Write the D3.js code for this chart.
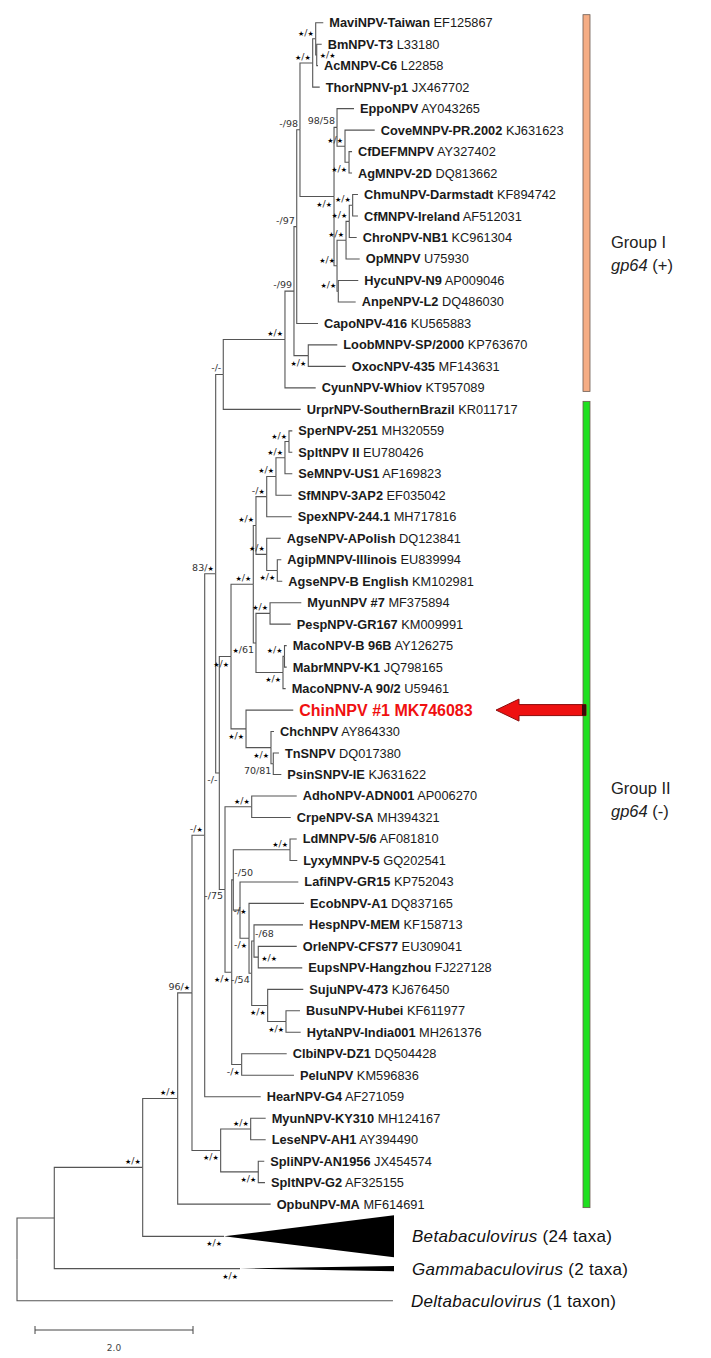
<!DOCTYPE html>
<html>
<head>
<meta charset="utf-8">
<script src="https://cdn.jsdelivr.net/npm/d3@7"></script>
<style>
  body { margin: 0; background: #fff; }
  svg { display: block; font-family: "Liberation Sans", Arial, sans-serif; }
</style>
</head>
<body>
<svg id="chart" width="711" height="1358"></svg>
<script>
// Internal nodes: id, parent, distance from root (subst./site), support (ML / BI, * = max)
const nodes = [
  ["root", "", 0, ""],
  ["ABG", "root", 0.472, ""],
  ["AB", "ABG", 1.591, "*/*"],
  ["alpha", "AB", 2.034, "*/*"],
  ["n96", "alpha", 2.215, "96/*"],
  ["mj", "n96", 2.376, "-/*"],
  ["n83", "mj", 2.515, "83/*"],
  ["g1plus", "n83", 2.611, "-/-"],
  ["g1", "g1plus", 3.392, "*/*"],
  ["n99", "g1", 3.506, "-/99"],
  ["n97", "n99", 3.541, "-/97"],
  ["n98", "n97", 3.582, "-/98"],
  ["upper", "n98", 3.743, "*/*"],
  ["mavi", "upper", 3.781, "*/*"],
  ["bmac", "mavi", 3.794, "*/*"],
  ["lower", "n98", 4.013, "*/*"],
  ["eppo", "lower", 4.051, "98/58"],
  ["cove", "eppo", 4.152, "*/*"],
  ["cfag", "cove", 4.203, "*/*"],
  ["chmuAll", "lower", 4.051, "*/*"],
  ["op", "chmuAll", 4.165, "*/*"],
  ["chro", "op", 4.206, "*/*"],
  ["chmucf", "chro", 4.249, "*/*"],
  ["hyan", "chmuAll", 4.067, "*/*"],
  ["loox", "n99", 3.687, "*/*"],
  ["g2", "n83", 2.561, "-/-"],
  ["a", "g2", 2.709, "*/*"],
  ["bp", "a", 2.991, "*/*"],
  ["sa", "bp", 3.025, "*/*"],
  ["spex", "sa", 3.161, "-/*"],
  ["sf", "spex", 3.278, "*/*"],
  ["se", "sf", 3.392, "*/*"],
  ["spsp", "se", 3.443, "*/*"],
  ["agse", "sa", 3.161, "*/*"],
  ["ag2", "agse", 3.295, "*/*"],
  ["mp", "bp", 3.025, "*/61"],
  ["mype", "mp", 3.203, "*/*"],
  ["maco", "mp", 3.367, "*/*"],
  ["mbm", "maco", 3.386, "*/*"],
  ["chin", "a", 2.899, "*/*"],
  ["chtp", "chin", 3.215, "*/*"],
  ["tp", "chtp", 3.244, "70/81"],
  ["n75", "g2", 2.633, "-/75"],
  ["adcr", "n75", 2.971, "*/*"],
  ["x", "n75", 2.718, "*/*"],
  ["y", "x", 2.738, "-/50"],
  ["ldly", "y", 3.456, "*/*"],
  ["z", "y", 2.823, "-/*"],
  ["w", "z", 2.937, "-/*"],
  ["v", "w", 2.971, "-/54"],
  ["hoe", "v", 3.000, "-/68"],
  ["oe", "hoe", 3.054, "*/*"],
  ["s", "v", 3.173, "*/*"],
  ["bh", "s", 3.405, "*/*"],
  ["cp", "x", 2.844, "-/*"],
  ["mls", "n96", 2.578, "*/*"],
  ["ml", "mls", 2.958, "*/*"],
  ["ss", "mls", 3.054, "*/*"]
];

// Tips, top to bottom: name, accession, parent node, distance from root
const tips = [
  ["MaviNPV-Taiwan", "EF125867", "mavi", 3.877],
  ["BmNPV-T3", "L33180", "bmac", 3.857],
  ["AcMNPV-C6", "L22858", "bmac", 3.810],
  ["ThorNPNV-p1", "JX467702", "upper", 3.832],
  ["EppoNPV", "AY043265", "eppo", 4.266],
  ["CoveMNPV-PR.2002", "KJ631623", "cove", 4.528],
  ["CfDEFMNPV", "AY327402", "cfag", 4.241],
  ["AgMNPV-2D", "DQ813662", "cfag", 4.241],
  ["ChmuNPV-Darmstadt", "KF894742", "chmucf", 4.316],
  ["CfMNPV-Ireland", "AF512031", "chmucf", 4.316],
  ["ChroNPV-NB1", "KC961304", "chro", 4.300],
  ["OpMNPV", "U75930", "op", 4.338],
  ["HycuNPV-N9", "AP009046", "hyan", 4.320],
  ["AnpeNPV-L2", "DQ486030", "hyan", 4.287],
  ["CapoNPV-416", "KU565883", "n97", 3.810],
  ["LoobMNPV-SP/2000", "KP763670", "loox", 4.054],
  ["OxocNPV-435", "MF143631", "loox", 4.161],
  ["CyunNPV-Whiov", "KT957089", "g1", 3.781],
  ["UrprNPV-SouthernBrazil", "KR011717", "g1plus", 3.591],
  ["SperNPV-251", "MH320559", "spsp", 3.485],
  ["SpltNPV II", "EU780426", "spsp", 3.485],
  ["SeMNPV-US1", "AF169823", "se", 3.485],
  ["SfMNPV-3AP2", "EF035042", "sf", 3.477],
  ["SpexNPV-244.1", "MH717816", "spex", 3.477],
  ["AgseNPV-APolish", "DQ123841", "agse", 3.338],
  ["AgipMNPV-Illinois", "EU839994", "ag2", 3.346],
  ["AgseNPV-B English", "KM102981", "ag2", 3.358],
  ["MyunNPV #7", "MF375894", "mype", 3.599],
  ["PespNPV-GR167", "KM009991", "mype", 3.465],
  ["MacoNPV-B 96B", "AY126275", "mbm", 3.414],
  ["MabrMNPV-K1", "JQ798165", "mbm", 3.414],
  ["MacoNPNV-A 90/2", "U59461", "maco", 3.401],
  ["ChinNPV #1", "MK746083", "chin", 3.497],
  ["ChchNPV", "AY864330", "chtp", 3.253],
  ["TnSNPV", "DQ017380", "tp", 3.316],
  ["PsinSNPV-IE", "KJ631622", "tp", 3.346],
  ["AdhoNPV-ADN001", "AP006270", "adcr", 3.541],
  ["CrpeNPV-SA", "MH394321", "adcr", 3.465],
  ["LdMNPV-5/6", "AF081810", "ldly", 3.541],
  ["LyxyMNPV-5", "GQ202541", "ldly", 3.548],
  ["LafiNPV-GR15", "KP752043", "z", 3.561],
  ["EcobNPV-A1", "DQ837165", "w", 3.633],
  ["HespNPV-MEM", "KF158713", "hoe", 3.620],
  ["OrleNPV-CFS77", "EU309041", "oe", 3.541],
  ["EupsNPV-Hangzhou", "FJ227128", "oe", 3.611],
  ["SujuNPV-473", "KJ676450", "s", 3.624],
  ["BusuNPV-Hubei", "KF611977", "bh", 3.582],
  ["HytaNPV-India001", "MH261376", "bh", 3.591],
  ["ClbiNPV-DZ1", "DQ504428", "cp", 3.414],
  ["PeluNPV", "KM596836", "cp", 3.506],
  ["HearNPV-G4", "AF271059", "mj", 3.085],
  ["MyunNPV-KY310", "MH124167", "ml", 3.148],
  ["LeseNPV-AH1", "AY394490", "ml", 3.148],
  ["SpliNPV-AN1956", "JX454574", "ss", 3.130],
  ["SpltNPV-G2", "AF325155", "ss", 3.139],
  ["OpbuNPV-MA", "MF614691", "alpha", 3.211]
];

// Collapsed genera: name, note, parent node, clade origin, tip distance, support
const genera = [
  ["Betabaculovirus", "(24 taxa)", "AB", 2.620, 4.772, "*/*"],
  ["Gammabaculovirus", "(2 taxa)", "ABG", 2.823, 4.772, "*/*"],
  ["Deltabaculovirus", "(1 taxon)", "root", 4.759, 4.759, ""]
];

// Alphabaculovirus groups: label, gene, sign, first tip, last tip
const groups = [
  ["Group I", "gp64", "(+)", "MaviNPV-Taiwan", "CyunNPV-Whiov"],
  ["Group II", "gp64", "(-)", "UrprNPV-SouthernBrazil", "OpbuNPV-MA"]
];

const highlight = "ChinNPV #1";
const scaleBarValue = 2.0;

// support label placement (default: above the branch, left of the node)
const labelPlace = {
  below: ["lower", "cfag", "ag2", "mp", "maco", "a", "chin", "chtp", "tp", "g2", "n75", "x", "w", "v",
          "s", "bh", "cp", "mls", "ss", "loox", "Betabaculovirus", "Gammabaculovirus"],
  right: ["bmac", "oe"],
  aboveRight: ["hoe", "y"],
  mid: ["z"]
};
const wedgeHalf = { Betabaculovirus: 21, Gammabaculovirus: 2.6 };
const groupColors = ["#f5ad85", "#1fe01f"];
const groupLabelAt = [0.634, 0.494];

const svg = d3.select("#chart");

const x = d3.scaleLinear().domain([0, 5]).range([17, 412]);
const lastRow = tips.length - 1 + genera.length * 1.5;
const y = d3.scaleLinear().domain([0, lastRow]).range([22.7, 1300.8]);

const table = [
  ...nodes.map(([id, parent, dist, support]) => ({ id, parent, dist, support, kind: "node" })),
  ...tips.map(([name, acc, parent, dist], i) => ({ id: name, parent, dist, support: "", kind: "tip", acc, row: i })),
  ...genera.map(([name, note, parent, apex, end, support], j) => ({
    id: name, parent, dist: apex, end, support, kind: "clade", note, row: tips.length - 1 + 1.5 * (j + 1)
  }))
];

const root = d3.stratify()
  .id(d => d.id)
  .parentId(d => d.parent || null)(table);

root.eachAfter(n => {
  n.px = x(n.data.dist);
  if (n.children) {
    const ys = n.children.map(c => c.py);
    n.py = (d3.min(ys) + d3.max(ys)) / 2;
  } else {
    n.py = y(n.data.row);
  }
});

const byId = new Map(root.descendants().map(n => [n.id, n]));

// branches
svg.append("g")
  .selectAll("path")
  .data(root.descendants().filter(n => n.parent))
  .join("path")
  .attr("d", n => `M${n.parent.px},${n.parent.py}V${n.py}H${n.px}`)
  .attr("fill", "none")
  .attr("stroke", "#555")
  .attr("stroke-width", 1.1);

// collapsed clades
const clades = root.leaves().filter(n => n.data.kind === "clade");
svg.append("g")
  .selectAll("path")
  .data(clades.filter(n => n.data.end > n.data.dist))
  .join("path")
  .attr("d", n => {
    const h = wedgeHalf[n.id], xe = x(n.data.end);
    return `M${n.px},${n.py}L${xe},${n.py - h}L${xe},${n.py + h}Z`;
  })
  .attr("fill", "#000");

svg.append("g")
  .selectAll("text")
  .data(clades)
  .join("text")
  .attr("x", n => x(n.data.end) + 18)
  .attr("y", n => n.py)
  .attr("dy", "0.35em")
  .attr("font-size", 17)
  .attr("letter-spacing", 0.3)
  .attr("fill", "#111")
  .call(t => t.append("tspan").attr("font-style", "italic").text(n => n.id))
  .call(t => t.append("tspan").text(n => " " + n.data.note));

// tip labels
svg.append("g")
  .selectAll("text")
  .data(root.leaves().filter(n => n.data.kind === "tip"))
  .join("text")
  .attr("x", n => n.px + 6)
  .attr("y", n => n.py)
  .attr("dy", "0.35em")
  .attr("font-size", n => n.id === highlight ? 16 : 12.8)
  .attr("fill", n => n.id === highlight ? "#f01010" : "#1a1a1a")
  .call(t => t.append("tspan").attr("font-weight", "bold").text(n => n.id))
  .call(t => t.append("tspan")
    .attr("font-weight", n => n.id === highlight ? "bold" : "normal")
    .text(n => " " + n.data.acc));

// support values
const placeOf = id => Object.keys(labelPlace).find(k => labelPlace[k].includes(id)) || "above";
svg.append("g")
  .attr("font-family", "'DejaVu Sans', sans-serif")
  .attr("fill", "#333")
  .selectAll("text")
  .data(root.descendants().filter(n => n.data.support))
  .join("text")
  .each(function (n) {
    const p = placeOf(n.id);
    const t = d3.select(this);
    if (p === "above") t.attr("x", n.px - 2).attr("y", n.py - 3).attr("text-anchor", "end");
    else if (p === "below") t.attr("x", n.px - 2).attr("y", n.py + 10).attr("text-anchor", "end");
    else if (p === "right") t.attr("x", n.px + 3).attr("y", n.py + 3.5).attr("text-anchor", "start");
    else if (p === "aboveRight") t.attr("x", n.px + 1).attr("y", n.py - 4).attr("text-anchor", "start");
    else t.attr("x", n.px).attr("y", n.py + 3.5).attr("text-anchor", "middle");
    t.selectAll("tspan")
      .data(n.data.support.split(""))
      .join("tspan")
      .attr("font-size", c => c === "*" ? 7 : 9.5)
      .attr("fill", c => c === "*" ? "#000" : "#333")
      .text(c => c === "*" ? "\u2605" : c);
  });

// group bars
const gBars = svg.append("g");
groups.forEach(([label, gene, sign, first, last], i) => {
  const y0 = byId.get(first).py - 8;
  const y1 = byId.get(last).py + 3.5;
  gBars.append("rect")
    .attr("x", 583).attr("y", y0)
    .attr("width", 7).attr("height", y1 - y0)
    .attr("fill", groupColors[i])
    .attr("stroke", "#6b5a50")
    .attr("stroke-width", 0.8);
  const ly = y0 + groupLabelAt[i] * (y1 - y0);
  gBars.append("text")
    .attr("x", 611).attr("y", ly - 11.5)
    .attr("dy", "0.35em")
    .attr("font-size", 16.5)
    .attr("fill", "#222")
    .text(label);
  const t2 = gBars.append("text")
    .attr("x", 611).attr("y", ly + 11.5)
    .attr("dy", "0.35em")
    .attr("font-size", 16.5)
    .attr("fill", "#222");
  t2.append("tspan").attr("font-style", "italic").text(gene);
  t2.append("tspan").text(" " + sign);
});

// arrow pointing at the new isolate
const chin = byId.get(highlight);
const ax = 496, ay = chin.py;
const arrow = d3.path();
arrow.moveTo(ax, ay);
arrow.lineTo(ax + 23, ay - 11);
arrow.lineTo(ax + 23, ay - 5.5);
arrow.lineTo(ax + 90, ay - 5.5);
arrow.lineTo(ax + 90, ay + 5.5);
arrow.lineTo(ax + 23, ay + 5.5);
arrow.lineTo(ax + 23, ay + 11);
arrow.closePath();
svg.append("path").attr("d", arrow.toString())
  .attr("fill", "#ee1111").attr("stroke", "#8a0d0d").attr("stroke-width", 1);
svg.append("rect").attr("x", ax + 86).attr("y", ay - 5.5).attr("width", 4).attr("height", 11)
  .attr("fill", "#3a0a0a");

// scale bar
const sb = svg.append("g").attr("stroke", "#444").attr("stroke-width", 1);
const sx0 = 35, sx1 = 35 + x(scaleBarValue) - x(0), sy = 1330;
sb.append("line").attr("x1", sx0).attr("x2", sx1).attr("y1", sy).attr("y2", sy);
sb.append("line").attr("x1", sx0).attr("x2", sx0).attr("y1", sy - 4).attr("y2", sy + 4);
sb.append("line").attr("x1", sx1).attr("x2", sx1).attr("y1", sy - 4).attr("y2", sy + 4);
svg.append("text")
  .attr("x", (sx0 + sx1) / 2).attr("y", sy + 21)
  .attr("text-anchor", "middle")
  .attr("font-family", "'DejaVu Sans', sans-serif")
  .attr("font-size", 9)
  .attr("fill", "#444")
  .text(scaleBarValue.toFixed(1));
</script>
</body>
</html>
